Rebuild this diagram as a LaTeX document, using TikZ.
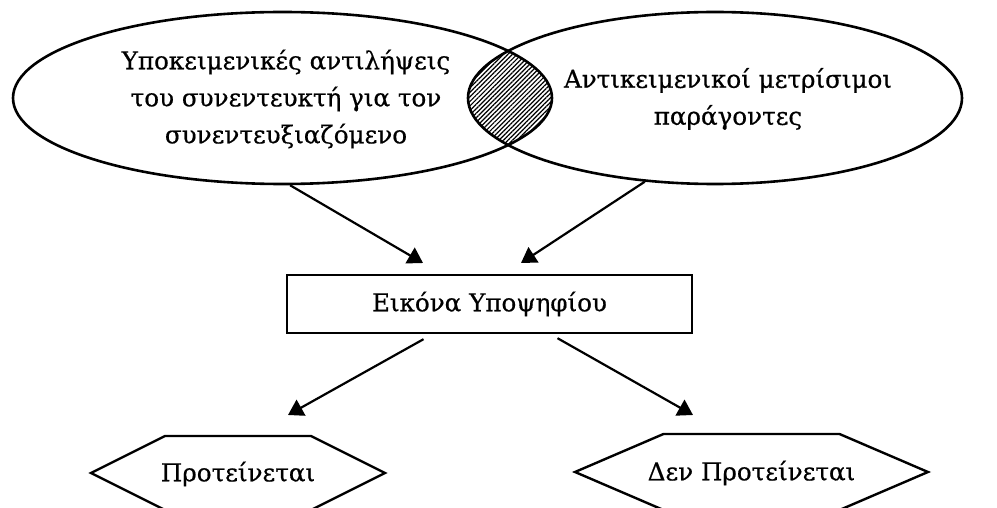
\documentclass[tikz,border=0pt]{standalone}
\usepackage{fontspec}
\setmainfont{DejaVu Serif}[FakeBold=0.6]
\usetikzlibrary{shapes.geometric,arrows.meta,patterns.meta}

\tikzset{
  elipse/.style={ellipse, draw, line width=1.3pt, inner sep=0pt},
  caixa/.style={rectangle, draw, line width=1.2pt, minimum width=202.5pt, minimum height=29pt, inner sep=0pt},
  seta/.style={-{Triangle[length=7.5pt,width=9pt]}, line width=1.1pt},
  texto/.style={align=center, font=\fontsize{12.3}{18.5}\selectfont},
}

\begin{document}
\begin{tikzpicture}[x=0.5pt, y=-0.5pt]
    \useasboundingbox (0,0) rectangle (997,508);

    % Interseção das elipses
    \begin{scope}
        \clip (282.5,98) ellipse [x radius=134.75pt, y radius=43pt];
        \fill[pattern={Lines[angle=45,distance=1.6pt,line width=0.6pt]}] (715,98) ellipse [x radius=123.5pt, y radius=43pt];
    \end{scope}

    % Elipses
    \node[elipse, minimum width=269.5pt, minimum height=86pt] (subj) at (282.5,98) {};
    \node[elipse, minimum width=247pt, minimum height=86pt] (obj) at (715,98) {};
    \node[texto] (subjtxt) at (286,99) {Υποκειμενικές αντιλήψεις\\του συνεντευκτή για τον\\συνεντευξιαζόμενο};
    \node[texto] (objtxt) at (728,99) {Αντικειμενικοί μετρίσιμοι\\παράγοντες};

    % Caixa central
    \node[caixa, texto] (img) at (489.5,304) {Εικόνα Υποψηφίου};

    % Hexágonos
    \node[texto] (prop) at (238,474) {Προτείνεται};
    \node[texto] (noprop) at (751.5,473) {Δεν Προτείνεται};
    \draw[line width=1.2pt] (prop.center) ++(-147,-1) -- ++(74,-37) -- ++(146,0) -- ++(74,37) -- ++(-74,37) -- ++(-146,0) -- cycle;
    \draw[line width=1.2pt] (noprop.center) ++(-176.5,-1) -- ++(88.5,-38) -- ++(176,0) -- ++(88.5,38) -- ++(-88.5,38) -- ++(-176,0) -- cycle;

    % Setas
    \coordinate (tipA) at (423,263);
    \coordinate (tipB) at (521,263);
    \coordinate (tipC) at (288,415);
    \coordinate (tipD) at (693,415);
    \draw[seta] (subj.-85) -- (tipA);
    \draw[seta] (obj.230) -- (tipB);
    \draw[seta] ([xshift=-33pt,yshift=-2.5pt]img.south) -- (tipC);
    \draw[seta] ([xshift=34pt,yshift=-2pt]img.south) -- (tipD);

\end{tikzpicture}
\end{document}
